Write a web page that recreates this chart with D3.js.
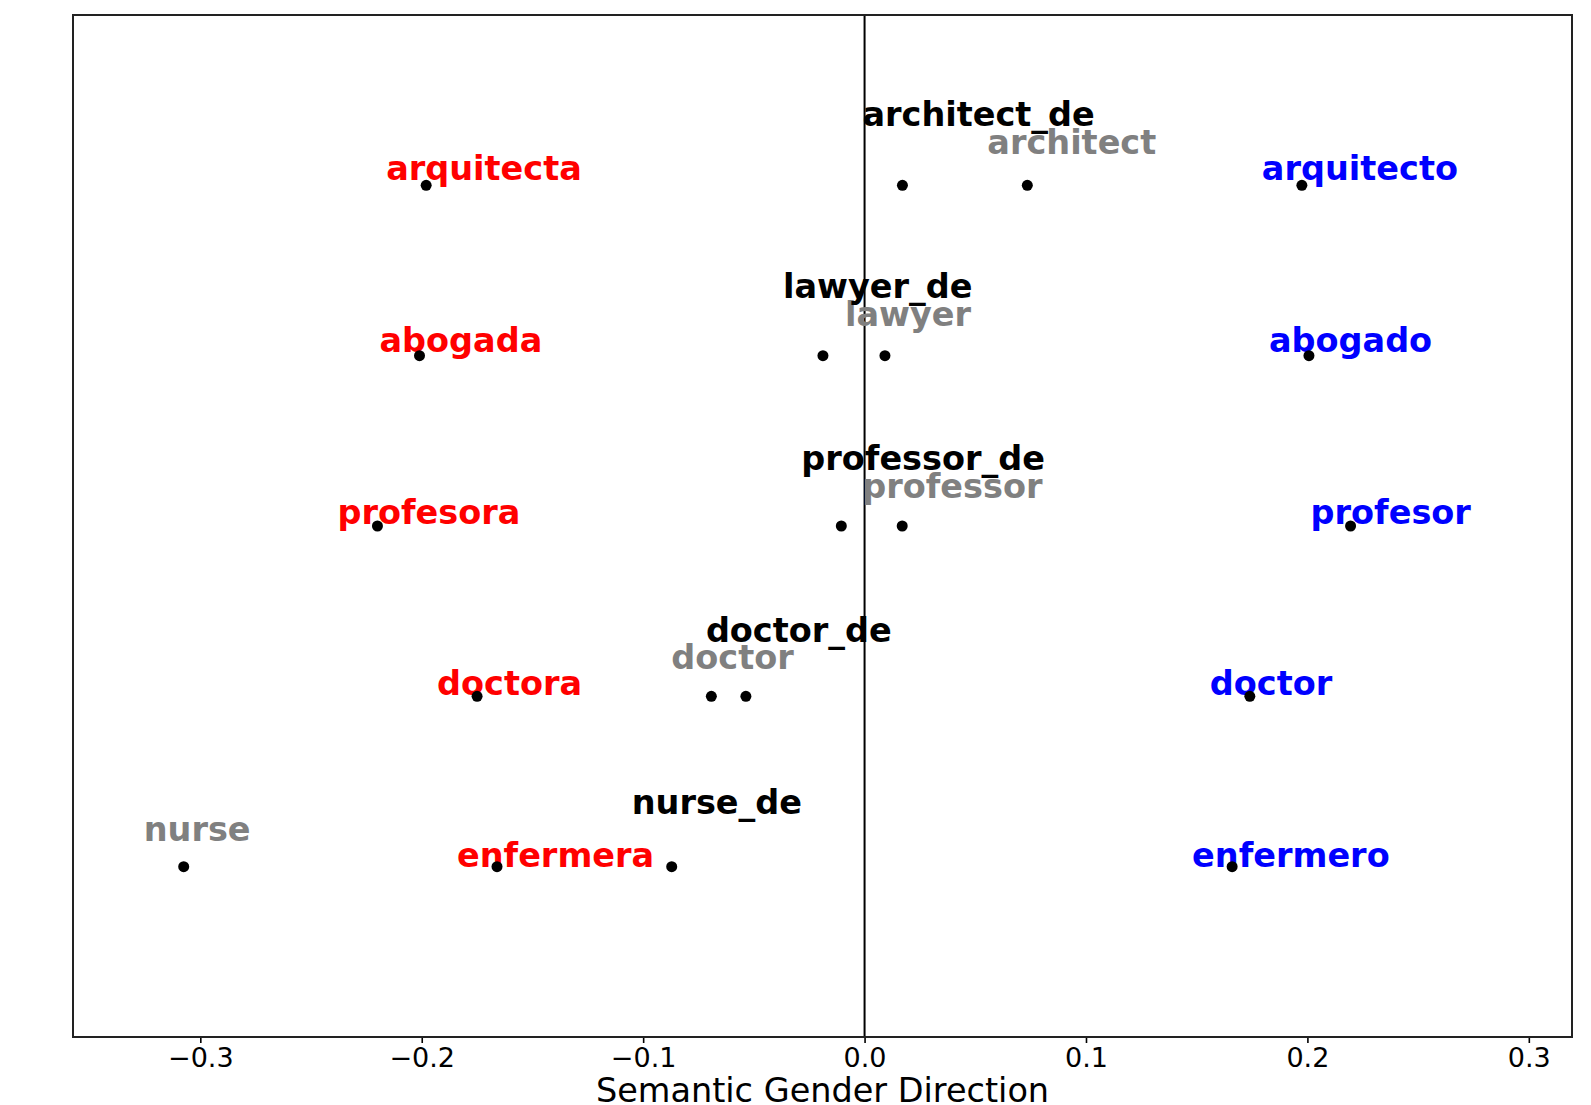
<!DOCTYPE html>
<html>
<head>
<meta charset="utf-8">
<script src="https://cdn.jsdelivr.net/npm/d3@7"></script>
<style>
  html, body { margin: 0; padding: 0; background: #ffffff; }
  svg { display: block; }
</style>
</head>
<body>
<svg id="chart" width="1591" height="1105"></svg>
<script>
// ---- data ----
const rowY = [5, 4, 3, 2, 1];
const feminineLabels = ["arquitecta", "abogada", "profesora", "doctora", "enfermera"];
const feminineX = [-0.198, -0.201, -0.220, -0.175, -0.166];
const masculineLabels = ["arquitecto", "abogado", "profesor", "doctor", "enfermero"];
const masculineX = [0.1975, 0.2007, 0.2195, 0.174, 0.166];
const englishLabels = ["architect", "lawyer", "professor", "doctor", "nurse"];
const englishX = [0.0735, 0.0092, 0.017, -0.0692, -0.3075];
const debiasedLabels = ["architect_de", "lawyer_de", "professor_de", "doctor_de", "nurse_de"];
const debiasedX = [0.0171, -0.0188, -0.0105, -0.0536, -0.0871];
const xTicks = [-0.3, -0.2, -0.1, 0.0, 0.1, 0.2, 0.3];
const xLabel = "Semantic Gender Direction";

// ---- layout ----
const svg = d3.select("#chart");
const plot = { left: 73, right: 1572, top: 15, bottom: 1037 };
const x = d3.scaleLinear().domain([-0.3575, 0.3195]).range([plot.left, plot.right]);
const y = d3.scaleLinear().domain([0, 6]).range([plot.bottom, plot.top]);
const labelDrift = 1.5; // labels sit slightly lower relative to their dots further down

svg.append("rect").attr("width", 1591).attr("height", 1105).attr("fill", "#fff");

// zero line
svg.append("line")
  .attr("x1", x(0)).attr("x2", x(0))
  .attr("y1", plot.top).attr("y2", plot.bottom)
  .attr("stroke", "#000").attr("stroke-width", 2);

const groups = [
  { labels: englishLabels, xs: englishX, color: "#808080", dy: -31.5 },
  { labels: debiasedLabels, xs: debiasedX, color: "#000000", dy: -59 },
  { labels: feminineLabels, xs: feminineX, color: "#ff0000", dy: -5.5 },
  { labels: masculineLabels, xs: masculineX, color: "#0000ff", dy: -5.5 }
];

const labelLayer = svg.append("g");
const dotLayer = svg.append("g");

groups.forEach(g => {
  const data = g.labels.map((l, i) => ({ label: l, x: g.xs[i], y: rowY[i] }));
  labelLayer.selectAll(null).data(data).enter().append("text")
    .attr("x", d => x(d.x) - 40)
    .attr("y", d => y(d.y) + g.dy + (5 - d.y) * labelDrift)
    .attr("font-family", "DejaVu Sans")
    .attr("font-weight", "bold")
    .attr("font-size", 33.5)
    .attr("fill", g.color)
    .text(d => d.label);
  dotLayer.selectAll(null).data(data).enter().append("circle")
    .attr("cx", d => x(d.x))
    .attr("cy", d => y(d.y))
    .attr("r", 5.5)
    .attr("fill", "#000");
});

// x axis
const axis = d3.axisBottom(x).tickValues(xTicks).tickFormat(d3.format(".1f")).tickSizeOuter(0).tickSize(6).tickPadding(6);
const axG = svg.append("g").attr("transform", `translate(0,${plot.bottom})`).call(axis);
axG.select(".domain").remove();
axG.selectAll(".tick line").attr("stroke", "#000").attr("stroke-width", 1.6);
axG.selectAll(".tick text")
  .attr("font-family", "DejaVu Sans")
  .attr("font-size", 27)
  .attr("fill", "#000")
  .attr("dy", null)
  .attr("y", 30);

// frame
svg.append("rect")
  .attr("x", plot.left).attr("y", plot.top)
  .attr("width", plot.right - plot.left).attr("height", plot.bottom - plot.top)
  .attr("fill", "none").attr("stroke", "#222").attr("stroke-width", 2);

// x label
svg.append("text")
  .attr("x", (plot.left + plot.right) / 2)
  .attr("y", 1102)
  .attr("text-anchor", "middle")
  .attr("font-family", "DejaVu Sans")
  .attr("font-size", 33.5)
  .attr("fill", "#000")
  .text(xLabel);
</script>
</body>
</html>
